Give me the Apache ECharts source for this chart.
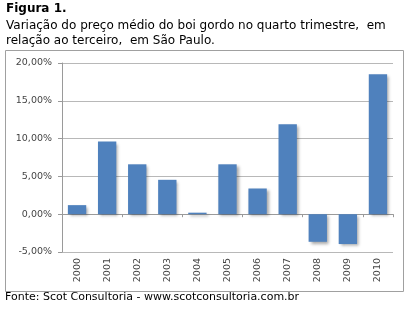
<!DOCTYPE html>
<html><head><meta charset="utf-8">
<script src="https://cdn.jsdelivr.net/npm/echarts@6/dist/echarts.min.js"></script>
<style>html,body{margin:0;padding:0;background:#fff}#c{width:411px;height:311px}</style>
</head><body><div id="c"></div>
<script>
const categories = ['2000','2001','2002','2003','2004','2005','2006','2007','2008','2009','2010'];
const values = [1.2, 9.6, 6.6, 4.55, 0.2, 6.6, 3.4, 11.9, -3.65, -3.95, 18.5];
const yTicks = {min: -5, max: 20, interval: 5};
const titleLines = ['Figura 1.', 'Variação do preço médio do boi gordo no quarto trimestre,  em', 'relação ao terceiro,  em São Paulo.'];
const footer = 'Fonte: Scot Consultoria - www.scotconsultoria.com.br';

const chart = echarts.init(document.getElementById('c'), null, {renderer: 'canvas'});
const lab = {fontFamily: 'DejaVu Sans', fontSize: 9.5, color: '#444'};
chart.setOption({
  animation: false,
  grid: {left: 62, right: 18, top: 63, bottom: 59},
  xAxis: [
    {type: 'category', data: categories, axisLine: {onZero: true, lineStyle: {color: '#9a9a9a'}},
     axisTick: {show: true, length: 3, lineStyle: {color: '#9a9a9a'}}, axisLabel: {show: false}},
    {type: 'category', data: categories, position: 'bottom', axisLine: {show: false}, axisTick: {show: false},
     axisLabel: Object.assign({rotate: 90, margin: 6}, lab)}
  ],
  yAxis: {type: 'value', min: yTicks.min, max: yTicks.max, interval: yTicks.interval,
    axisLine: {show: true, lineStyle: {color: '#9a9a9a'}},
    axisTick: {show: true, length: 4, lineStyle: {color: '#9a9a9a'}},
    splitLine: {lineStyle: {color: '#b8b8b8'}},
    axisLabel: Object.assign({margin: 10, formatter: v => v.toFixed(2).replace('.', ',') + '%'}, lab)},
  graphic: [
    {type: 'rect', shape: {x: 5.5, y: 50.5, width: 398, height: 241}, style: {fill: 'none', stroke: '#a0a0a0', lineWidth: 1}, z: -1},
    {type: 'text', left: 6, top: 3, style: {text: titleLines[0], font: 'bold 12px "DejaVu Sans"', fill: '#000'}},
    {type: 'text', left: 6, top: 20, style: {text: titleLines[1], font: '12px "DejaVu Sans"', fill: '#000'}},
    {type: 'text', left: 6, top: 35, style: {text: titleLines[2], font: '12px "DejaVu Sans"', fill: '#000'}},
    {type: 'text', left: 5, top: 292, style: {text: footer, font: '11px "DejaVu Sans"', fill: '#000'}}
  ],
  series: [{type: 'bar', data: values, xAxisIndex: 0, barWidth: '61%',
    itemStyle: {color: '#4f81bd', shadowColor: 'rgba(0,0,0,0.35)', shadowBlur: 3, shadowOffsetX: 2, shadowOffsetY: 2}}]
});
</script></body></html>
